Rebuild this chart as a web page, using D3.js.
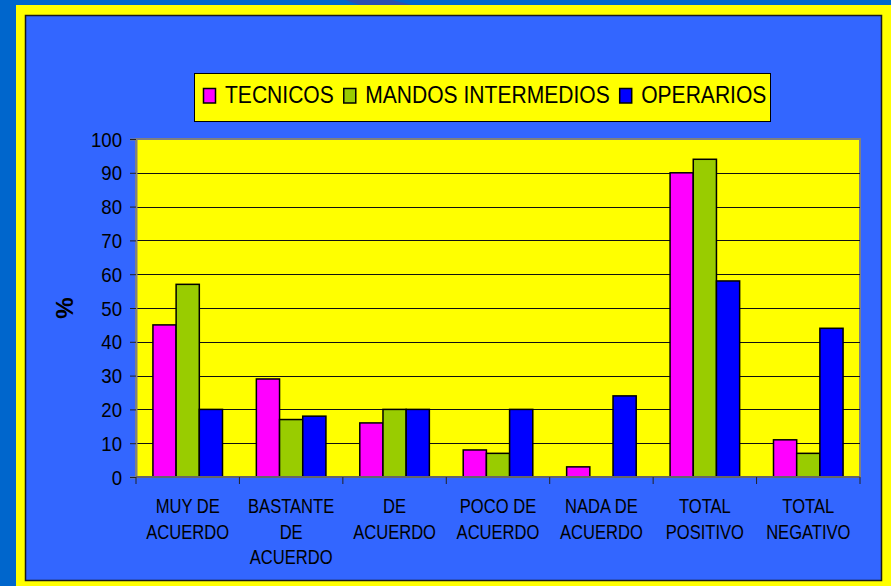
<!DOCTYPE html>
<html>
<head>
<meta charset="utf-8">
<script src="https://cdn.jsdelivr.net/npm/d3@7"></script>
<style>
  html, body { margin: 0; padding: 0; background: #0066CC; }
  svg text { font-family: "Liberation Sans", Arial, sans-serif; fill: #000; }
</style>
</head>
<body>
<div id="chart"></div>
<script>
const width = 891;
const height = 586;

// Data (percent)
const categories = [
    ["MUY DE", "ACUERDO"],
    ["BASTANTE", "DE", "ACUERDO"],
    ["DE", "ACUERDO"],
    ["POCO DE", "ACUERDO"],
    ["NADA DE", "ACUERDO"],
    ["TOTAL", "POSITIVO"],
    ["TOTAL", "NEGATIVO"]
];
const seriesNames = ["TECNICOS", "MANDOS INTERMEDIOS", "OPERARIOS"];
const seriesColors = ["#FF00FF", "#99CC00", "#0000FF"];
const tecnicos = [45, 29, 16, 8, 3, 90, 11];
const mandos = [57, 17, 20, 7, 0, 94, 7];
const operarios = [20, 18, 20, 20, 24, 58, 44];
const yTicks = [0, 10, 20, 30, 40, 50, 60, 70, 80, 90, 100];

const seriesValues = [tecnicos, mandos, operarios];
const plot = {left: 136, right: 860, top: 139, bottom: 477};

const svg = d3.select("#chart")
    .append("svg")
    .attr("width", width)
    .attr("height", height);

// slide background + frame
svg.append("rect").attr("width", width).attr("height", height).attr("fill", "#0066CC");
svg.append("path")
    .attr("d", "M345,0 L392,0 L412,5 L360,5 Z")
    .attr("fill", "#2D4FAE");
svg.append("rect")
    .attr("x", 16).attr("y", 5).attr("width", width - 16).attr("height", height - 5)
    .attr("fill", "#FFFF00");
svg.append("rect")
    .attr("x", 25.5).attr("y", 15.5).attr("width", 856).attr("height", 565)
    .attr("fill", "#3366FF")
    .attr("stroke", "#1a1a1a").attr("stroke-width", 1.5);

// Scales
const x0 = d3.scaleBand()
    .domain(d3.range(categories.length))
    .range([plot.left, plot.right])
    .padding(0);
const x1 = d3.scaleBand()
    .domain(d3.range(seriesNames.length))
    .range([0, x0.bandwidth()])
    .paddingInner(0)
    .paddingOuter(0.73);
const y = d3.scaleLinear().domain([0, 100]).range([plot.bottom, plot.top]);

// plot area
svg.append("rect")
    .attr("x", plot.left).attr("y", plot.top)
    .attr("width", plot.right - plot.left).attr("height", plot.bottom - plot.top)
    .attr("fill", "#FFFF00")
    .attr("stroke", "#808080").attr("stroke-width", 2);

// gridlines
svg.append("g")
    .selectAll("line")
    .data(yTicks.filter(d => d > 0 && d < 100))
    .join("line")
    .attr("x1", plot.left).attr("x2", plot.right)
    .attr("y1", d => Math.round(y(d)) + 0.5).attr("y2", d => Math.round(y(d)) + 0.5)
    .attr("stroke", "#111").attr("stroke-width", 1);

// bars
const groups = svg.append("g")
    .selectAll("g")
    .data(categories.map((c, i) => i))
    .join("g")
    .attr("transform", i => `translate(${x0(i)},0)`);

groups.selectAll("rect")
    .data(i => seriesValues.map((vals, s) => ({s, v: vals[i]})).filter(d => d.v > 0))
    .join("rect")
    .attr("x", d => x1(d.s))
    .attr("y", d => y(d.v))
    .attr("width", x1.bandwidth())
    .attr("height", d => y(0) - y(d.v))
    .attr("fill", d => seriesColors[d.s])
    .attr("stroke", "#000")
    .attr("stroke-width", 1.5);

// y axis
const yAxis = svg.append("g")
    .attr("transform", `translate(${plot.left},0)`)
    .call(d3.axisLeft(y).tickValues(yTicks).tickSize(6).tickPadding(8));
yAxis.select(".domain").attr("stroke", "#808080").attr("stroke-width", 2);
yAxis.selectAll(".tick line").attr("stroke", "#222");
yAxis.selectAll(".tick text")
    .style("font-size", "20px")
    .attr("transform", "scale(0.93,1)")
    .attr("x", -14 / 0.93)
    .attr("dy", "0.35em");

// x axis line + boundary ticks
const xAxis = svg.append("g").attr("transform", `translate(0,${plot.bottom})`);
xAxis.append("line")
    .attr("x1", plot.left).attr("x2", plot.right)
    .attr("stroke", "#666").attr("stroke-width", 2);
const bounds = d3.range(categories.length).map(i => x0(i)).concat([plot.right]);
xAxis.selectAll(".tk")
    .data(bounds)
    .join("line")
    .attr("class", "tk")
    .attr("x1", d => d).attr("x2", d => d)
    .attr("y1", 0).attr("y2", 7)
    .attr("stroke", "#222").attr("stroke-width", 1);

// category labels (two or three lines, condensed)
const catLabels = svg.append("g");
categories.forEach((lines, i) => {
    const cx = x0(i) + x0.bandwidth() / 2;
    lines.forEach((ln, j) => {
        catLabels.append("text")
            .attr("transform", `translate(${cx},${513 + j * 25.5}) scale(0.85,1)`)
            .attr("text-anchor", "middle")
            .style("font-size", "19.5px")
            .text(ln);
    });
});

// y axis title
svg.append("text")
    .attr("transform", "translate(73,308) rotate(-90)")
    .attr("text-anchor", "middle")
    .style("font-size", "24px")
    .style("font-weight", "bold")
    .text("%");

// legend
const legend = svg.append("g");
legend.append("rect")
    .attr("x", 194.5).attr("y", 73.5).attr("width", 576).attr("height", 48)
    .attr("fill", "#FFFF00")
    .attr("stroke", "#000").attr("stroke-width", 1);

const textScale = 0.86;
let lx = 203.5;
seriesNames.forEach((name, s) => {
    legend.append("rect")
        .attr("x", lx).attr("y", 88.5).attr("width", 12).attr("height", 14.5)
        .attr("fill", seriesColors[s])
        .attr("stroke", "#000").attr("stroke-width", 1.5);
    const t = legend.append("text")
        .attr("transform", `translate(${lx + 21.5},103) scale(${textScale},1)`)
        .style("font-size", "24.5px")
        .text(name);
    const w = t.node().getComputedTextLength() * textScale;
    lx += 21.5 + w + 10;
});
</script>
</body>
</html>
